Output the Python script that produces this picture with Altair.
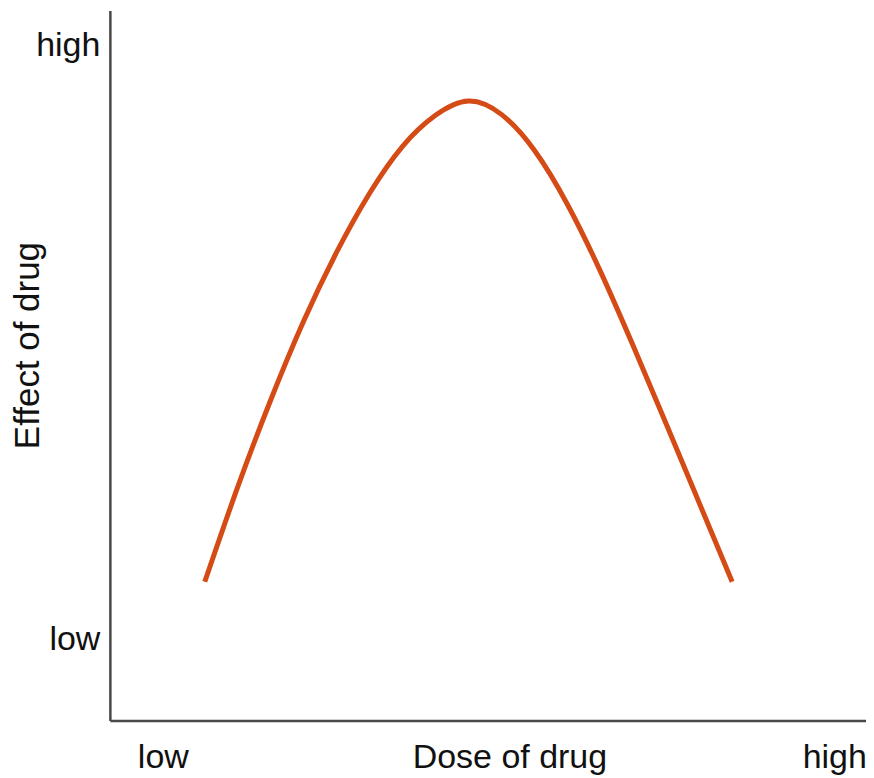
import altair as alt
import pandas as pd

# curve (dose 0-100, effect 0-100), evenly spaced doses
dose = [12.55, 16.91, 21.27, 25.63, 29.99, 34.35, 38.71, 43.06, 47.42,
        51.78, 56.14, 60.50, 64.86, 69.22, 73.58, 77.94, 82.30]
effect = [19.55, 32.91, 45.15, 56.26, 65.96, 74.26, 80.87, 85.23, 87.26,
          85.37, 80.31, 72.71, 63.29, 52.74, 41.77, 30.66, 19.55]

x_tick_values = [7.0, 52.84, 95.8]
x_tick_labels = ["low", "Dose of drug", "high"]
y_tick_values = [11.39, 95.08]
y_tick_labels = ["low", "high"]

df = pd.DataFrame({"dose": dose, "effect": effect})

FONT = "Liberation Sans"

x_expr = "datum.value < 30 ? '%s' : (datum.value < 80 ? '%s' : '%s')" % tuple(x_tick_labels)
y_expr = "datum.value < 50 ? '%s' : '%s'" % tuple(y_tick_labels)

chart = alt.Chart(df).mark_line(
    color="#D44B16", strokeWidth=5, interpolate="natural", strokeCap="butt"
).encode(
    x=alt.X("dose:Q", scale=alt.Scale(domain=[0, 100], nice=False, zero=False),
            axis=alt.Axis(values=x_tick_values, labelExpr=x_expr, title=None,
                          grid=False, ticks=False, domainColor="#4a4a4a", domainWidth=2.5,
                          labelFont=FONT, labelFontSize=34, labelColor="#111111",
                          labelPadding=20, labelOverlap=False, labelFlush=False,
                          labelBound=False, labelLimit=0)),
    y=alt.Y("effect:Q", scale=alt.Scale(domain=[0, 100], nice=False, zero=False),
            axis=alt.Axis(values=y_tick_values, labelExpr=y_expr,
                          title="Effect of drug", titleFont=FONT, titleFontSize=35,
                          titleFontWeight="normal", titleColor="#111111",
                          titleAngle=-90, titleX=-82, titleY=335, titleAlign="center",
                          titleBaseline="middle",
                          grid=False, ticks=False, domainColor="#4a4a4a", domainWidth=2.5,
                          labelFont=FONT, labelFontSize=34, labelColor="#111111",
                          labelPadding=10, labelOverlap=False, labelFlush=False,
                          labelBound=False, labelBaseline="middle", labelLimit=0)),
).properties(
    width=757, height=711,
    background="white",
    autosize=alt.AutoSizeParams(type="none"),
    padding={"left": 102, "top": 2, "right": 0, "bottom": 62},
).configure_view(stroke=None)

chart.save("out.html", embed_options={"renderer": "svg", "actions": False})
